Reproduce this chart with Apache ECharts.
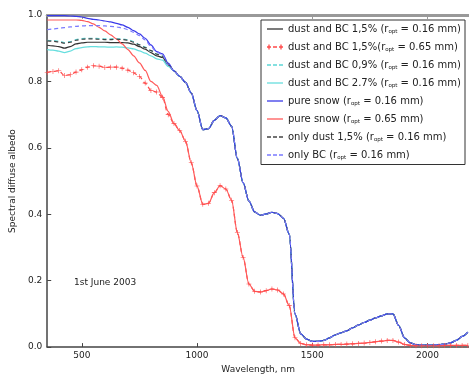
<!DOCTYPE html>
<html>
<head>
<meta charset="utf-8">
<script src="https://cdn.jsdelivr.net/npm/echarts@6/dist/echarts.min.js"></script>
<style>
  html, body { margin: 0; padding: 0; background: #fff; }
  #main { width: 469px; height: 379px; }
</style>
</head>
<body>
<div id="main"></div>
<script>
// wavelengths (nm): visible part where curves differ, and NIR part where they overlap
var wlHead = [350,375,400,425,450,475,500,525,550,575,600,625,650,675,700,725,750,775,800,825,850,875];
var wlTail = [900,925,950,975,1000,1025,1050,1075,1100,1125,1150,1175,1200,1225,1250,1275,1300,1325,1350,1375,
  1400,1425,1450,1475,1500,1525,1550,1575,1600,1625,1650,1675,1700,1725,1750,1775,1800,1825,1850,1875,
  1900,1925,1950,1975,2000,2025,2050,2075,2100,2125,2150,2175];

// visible part of each curve
var dustBC15_016 = [0.909,0.907,0.905,0.900,0.905,0.913,0.916,0.918,0.918,0.918,0.918,0.917,0.917,0.917,0.916,0.912,0.905,0.897,0.887,0.877,0.872,0.850];
var dustBC15_065 = [0.827,0.830,0.832,0.818,0.820,0.828,0.835,0.843,0.847,0.846,0.842,0.843,0.843,0.840,0.834,0.826,0.815,0.795,0.773,0.768,0.752,0.700];
var dustBC09_016 = [0.924,0.923,0.921,0.917,0.920,0.926,0.929,0.930,0.930,0.929,0.928,0.928,0.929,0.928,0.926,0.920,0.911,0.903,0.893,0.882,0.876,0.852];
var dustBC27_016 = [0.896,0.894,0.891,0.887,0.891,0.899,0.902,0.904,0.905,0.904,0.904,0.903,0.904,0.903,0.901,0.898,0.892,0.885,0.877,0.868,0.864,0.845];
var pure_016     = [0.998,0.998,0.998,0.998,0.997,0.996,0.994,0.990,0.987,0.985,0.982,0.979,0.975,0.970,0.963,0.953,0.943,0.930,0.910,0.890,0.883,0.855];
var pure_065     = [0.985,0.985,0.985,0.985,0.985,0.985,0.984,0.980,0.973,0.963,0.952,0.940,0.928,0.913,0.896,0.877,0.856,0.833,0.800,0.788,0.755,0.710];
var dust15_016   = [0.922,0.921,0.919,0.915,0.918,0.924,0.927,0.928,0.928,0.927,0.926,0.926,0.927,0.926,0.924,0.918,0.910,0.902,0.893,0.882,0.876,0.852];
var bc_016       = [0.956,0.958,0.960,0.962,0.964,0.966,0.967,0.968,0.968,0.968,0.967,0.966,0.964,0.961,0.956,0.948,0.938,0.925,0.905,0.888,0.880,0.850];

// NIR part, shared by curves with the same grain size (they overlap there)
var tail_016 = [0.832,0.815,0.797,0.765,0.712,0.655,0.658,0.683,0.697,0.690,0.665,0.568,0.495,0.440,0.407,0.397,0.401,0.406,0.402,0.388,
  0.340,0.100,0.040,0.024,0.017,0.017,0.020,0.028,0.037,0.043,0.049,0.058,0.066,0.074,0.081,0.088,0.094,0.100,0.100,0.065,
  0.028,0.013,0.007,0.006,0.006,0.006,0.007,0.009,0.013,0.020,0.032,0.045];
var tail_065 = [0.673,0.652,0.620,0.555,0.485,0.430,0.433,0.465,0.486,0.476,0.442,0.345,0.270,0.190,0.168,0.166,0.170,0.175,0.172,0.160,
  0.125,0.028,0.011,0.007,0.006,0.006,0.007,0.007,0.008,0.008,0.009,0.010,0.011,0.012,0.014,0.016,0.018,0.020,0.020,0.015,
  0.008,0.005,0.004,0.004,0.004,0.004,0.004,0.005,0.005,0.005,0.005,0.005];

var names = [
  'dust and BC 1,5% (r_opt = 0.16 mm)',
  'dust and BC 1,5%(r_opt = 0.65 mm)',
  'dust and BC 0,9% (r_opt = 0.16 mm)',
  'dust and BC 2.7% (r_opt = 0.16 mm)',
  'pure snow (r_opt = 0.16 mm)',
  'pure snow (r_opt = 0.65 mm)',
  'only dust 1,5% (r_opt = 0.16 mm)',
  'only BC (r_opt = 0.16 mm)'
];
var heads = [dustBC15_016, dustBC15_065, dustBC09_016, dustBC27_016, pure_016, pure_065, dust15_016, bc_016];
var tails = [tail_016, tail_065, tail_016, tail_016, tail_016, tail_065, tail_016, tail_016];
var xTicks = [500, 1000, 1500, 2000];

var wl = wlHead.concat(wlTail);
function pairs(i) {
  var v = heads[i].concat(tails[i]);
  return wl.map(function (w, k) { return [w, v[k]]; });
}

var styles = [
  { color: '#333333', type: 'solid' },
  { color: '#ff4a4a', type: [4, 3], marker: true },
  { color: '#5cd6d6', type: [4, 3] },
  { color: '#66dede', type: 'solid' },
  { color: '#3a3ae8', type: 'solid' },
  { color: '#ff5a5a', type: 'solid' },
  { color: '#444444', type: [4, 3] },
  { color: '#7a7aff', type: [4, 3] }
];

var plus = 'path://M4.4,0h1.2v10h-1.2zM0,4.4h10v1.2h-10z';
// legend keys drawn as small paths: solid line, dashed line, dashed line with + ends
var keySolid = 'path://M0,0h16v1.3h-16z';
var keyDash = 'path://M0,0h4v1.3h-4zM6,0h4v1.3h-4zM12,0h4v1.3h-4z';
var keyPlus = 'path://M0,1.85h4v1.3h-4zM1.35,0h1.3v5h-1.3zM6,1.85h4v1.3h-4zM12,1.85h4v1.3h-4zM13.35,0h1.3v5h-1.3z';

var series = names.map(function (n, i) {
  var s = styles[i];
  return {
    name: n,
    type: 'line',
    data: pairs(i),
    smooth: 0.3,
    smoothMonotone: 'x',
    symbol: s.marker ? plus : 'none',
    symbolSize: 5,
    showSymbol: !!s.marker,
    itemStyle: { color: s.color },
    lineStyle: { color: s.color, width: 1.2, type: s.type },
    emphasis: { disabled: true },
    animation: false
  };
});

var legendData = names.map(function (n, i) {
  var s = styles[i];
  return {
    name: n,
    icon: s.marker ? keyPlus : (s.type === 'solid' ? keySolid : keyDash),
    itemStyle: { color: s.color, borderWidth: 0 },
    lineStyle: { width: 0, opacity: 0 }
  };
});

var chart = echarts.init(document.getElementById('main'));
chart.setOption({
  animation: false,
  grid: { left: 38, top: 15, right: 0, bottom: 22 },
  legend: {
    orient: 'vertical',
    left: 261,
    top: 20,
    width: 203,
    backgroundColor: '#fff',
    borderColor: '#333',
    borderWidth: 1,
    borderRadius: 0,
    padding: [4, 4, 4, 6],
    itemWidth: 16,
    itemHeight: 10,
    itemGap: 7.5,
    textStyle: {
      fontFamily: 'DejaVu Sans',
      fontSize: 10,
      color: '#222',
      rich: {
        sub: { fontSize: 5.5, padding: [5, 0, 0, 0], fontFamily: 'DejaVu Sans', color: '#222' }
      }
    },
    formatter: function (n) { return n.replace('r_opt', 'r{sub|opt}'); },
    data: legendData
  },
  xAxis: [{
    type: 'value',
    min: 350,
    max: 2180,
    name: 'Wavelength, nm',
    nameLocation: 'middle',
    nameGap: 13,
    nameTextStyle: { fontFamily: 'DejaVu Sans', fontSize: 9, color: '#222' },
    axisLine: { lineStyle: { color: '#444', width: 1.5 } },
    axisTick: { inside: true, length: 4, customValues: xTicks, lineStyle: { color: '#444' } },
    axisLabel: { customValues: xTicks, fontFamily: 'DejaVu Sans', fontSize: 9, color: '#222', margin: 4,
      formatter: function (v) { return String(v); } },
    splitLine: { show: false }
  }, {
    type: 'value',
    position: 'top',
    min: 350,
    max: 2180,
    axisLine: { show: true, lineStyle: { color: '#999', width: 3 } },
    axisTick: { inside: true, length: 4, customValues: xTicks, lineStyle: { color: '#999' } },
    axisLabel: { show: false },
    splitLine: { show: false }
  }],
  yAxis: {
    type: 'value',
    min: 0,
    max: 1,
    interval: 0.2,
    name: 'Spectral diffuse albedo',
    nameLocation: 'middle',
    nameGap: 24,
    nameTextStyle: { fontFamily: 'DejaVu Sans', fontSize: 9, color: '#222' },
    axisLine: { show: true, lineStyle: { color: '#444', width: 1.5 } },
    axisTick: { show: true, inside: true, length: 4, lineStyle: { color: '#444' } },
    axisLabel: { fontFamily: 'DejaVu Sans', fontSize: 9, color: '#222', margin: 5,
      formatter: function (v) { return v.toFixed(1); } },
    splitLine: { show: false }
  },
  graphic: [{
    type: 'text',
    left: 74,
    top: 278,
    style: { text: '1st June 2003', fontFamily: 'DejaVu Sans', fontSize: 9, fill: '#222' }
  }],
  series: series
});
</script>
</body>
</html>
